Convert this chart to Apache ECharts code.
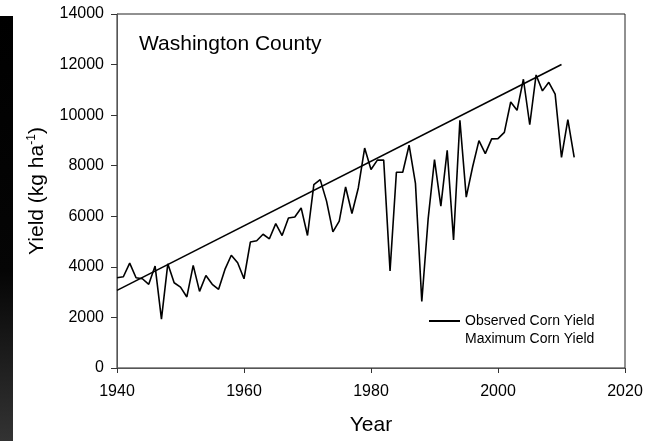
<!DOCTYPE html>
<html>
<head>
<meta charset="utf-8">
<script src="https://cdn.jsdelivr.net/npm/echarts@6/dist/echarts.min.js"></script>
<style>
html,body{margin:0;padding:0;background:#fff;}
#chart{width:650px;height:441px;}
</style>
</head>
<body>
<div id="chart"></div>
<script>
var years = [1940,1941,1942,1943,1944,1945,1946,1947,1948,1949,
1950,1951,1952,1953,1954,1955,1956,1957,1958,1959,
1960,1961,1962,1963,1964,1965,1966,1967,1968,1969,
1970,1971,1972,1973,1974,1975,1976,1977,1978,1979,
1980,1981,1982,1983,1984,1985,1986,1987,1988,1989,
1990,1991,1992,1993,1994,1995,1996,1997,1998,1999,
2000,2001,2002,2003,2004,2005,2006,2007,2008,2009,
2010,2011,2012];
var observedYield = [3570,3610,4150,3570,3530,3310,4030,1930,4120,3370,
3200,2810,4060,3030,3660,3310,3110,3900,4460,4160,
3530,4980,5030,5290,5110,5710,5240,5930,5970,6330,
5240,7250,7450,6600,5380,5810,7160,6110,7120,8700,
7850,8220,8220,3840,7740,7740,8810,7300,2630,5900,
8240,6400,8610,5060,9800,6760,7950,8990,8480,9060,
9070,9320,10520,10190,11420,9620,11590,10960,11300,10830,
8330,9820,8330];
var maxYears = [1940, 2010];
var maxYield = [3070, 12000];
var xTicks = [1940, 1960, 1980, 2000, 2020];
var yTicks = [0, 2000, 4000, 6000, 8000, 10000, 12000, 14000];

var obsData = years.map(function(y, i){ return [y, observedYield[i]]; });
var maxData = maxYears.map(function(y, i){ return [y, maxYield[i]]; });

var chart = echarts.init(document.getElementById('chart'), null, {renderer:'canvas'});
var font = 'Liberation Sans, Arial, sans-serif';
chart.setOption({
  animation: false,
  backgroundColor: '#fff',
  textStyle: {fontFamily: font},
  title: {
    text: 'Washington County',
    left: 134, top: 29,
    textStyle: {fontSize: 21, fontWeight: 'normal', color: '#000', fontFamily: font}
  },
  graphic: [{
    type: 'rect', left: 0, top: 16, shape: {width: 13, height: 425},
    style: {fill: new echarts.graphic.LinearGradient(0,0,0,1,[{offset:0,color:'#000'},{offset:0.6,color:'#050505'},{offset:1,color:'#333'}])},
    silent: true
  }],
  legend: {
    orient: 'vertical', left: 424, top: 309,
    itemWidth: 31, itemHeight: 2, itemGap: 4,
    textStyle: {fontSize: 14, color: '#000', fontFamily: font},
    data: [
      {name: 'Observed Corn Yield', icon: 'rect', itemStyle: {color: '#000'}},
      {name: 'Maximum Corn Yield', icon: 'rect', itemStyle: {color: 'rgba(0,0,0,0)'}}
    ]
  },
  grid: {left: 117, right: 25, top: 14, bottom: 72, show: true, borderColor: '#222', borderWidth: 1},
  xAxis: {
    type: 'value', min: xTicks[0], max: xTicks[xTicks.length-1], interval: 20,
    name: 'Year', nameLocation: 'middle', nameGap: 47,
    nameTextStyle: {fontSize: 21, fontWeight: 'normal', color: '#000', fontFamily: font},
    axisLine: {show: true, lineStyle: {color: '#555', width: 1}},
    axisTick: {show: true, inside: false, length: 5, lineStyle: {color: '#333'}},
    axisLabel: {fontSize: 16, color: '#000', margin: 16, fontFamily: font, formatter: function(v){ return String(v); }},
    splitLine: {show: false}
  },
  yAxis: {
    type: 'value', min: yTicks[0], max: yTicks[yTicks.length-1], interval: 2000,
    name: '{a|Yield (kg ha}{s|-1}{a|)}', nameLocation: 'middle', nameGap: 69, nameRotate: 90,
    nameTextStyle: {
      fontWeight: 'normal',
      rich: {
        a: {fontSize: 21, fontWeight: 'normal', color: '#000', fontFamily: font},
        s: {fontSize: 12, fontWeight: 'normal', color: '#000', fontFamily: font, verticalAlign: 'top', padding: [0,0,10,0]}
      }
    },
    axisLine: {show: true, lineStyle: {color: '#555', width: 1}},
    axisTick: {show: true, inside: false, length: 6, lineStyle: {color: '#333'}},
    axisLabel: {fontSize: 16, color: '#000', margin: 13, fontFamily: font, formatter: function(v){ return String(v); }},
    splitLine: {show: false}
  },
  series: [
    {
      name: 'Observed Corn Yield', type: 'line', data: obsData,
      showSymbol: false, symbol: 'none',
      lineStyle: {color: '#000', width: 1.6}, itemStyle: {color: '#000'}
    },
    {
      name: 'Maximum Corn Yield', type: 'line', data: maxData,
      showSymbol: false, symbol: 'none',
      lineStyle: {color: '#000', width: 1.6}, itemStyle: {color: 'rgba(0,0,0,0)'}
    }
  ]
});
</script>
</body>
</html>
